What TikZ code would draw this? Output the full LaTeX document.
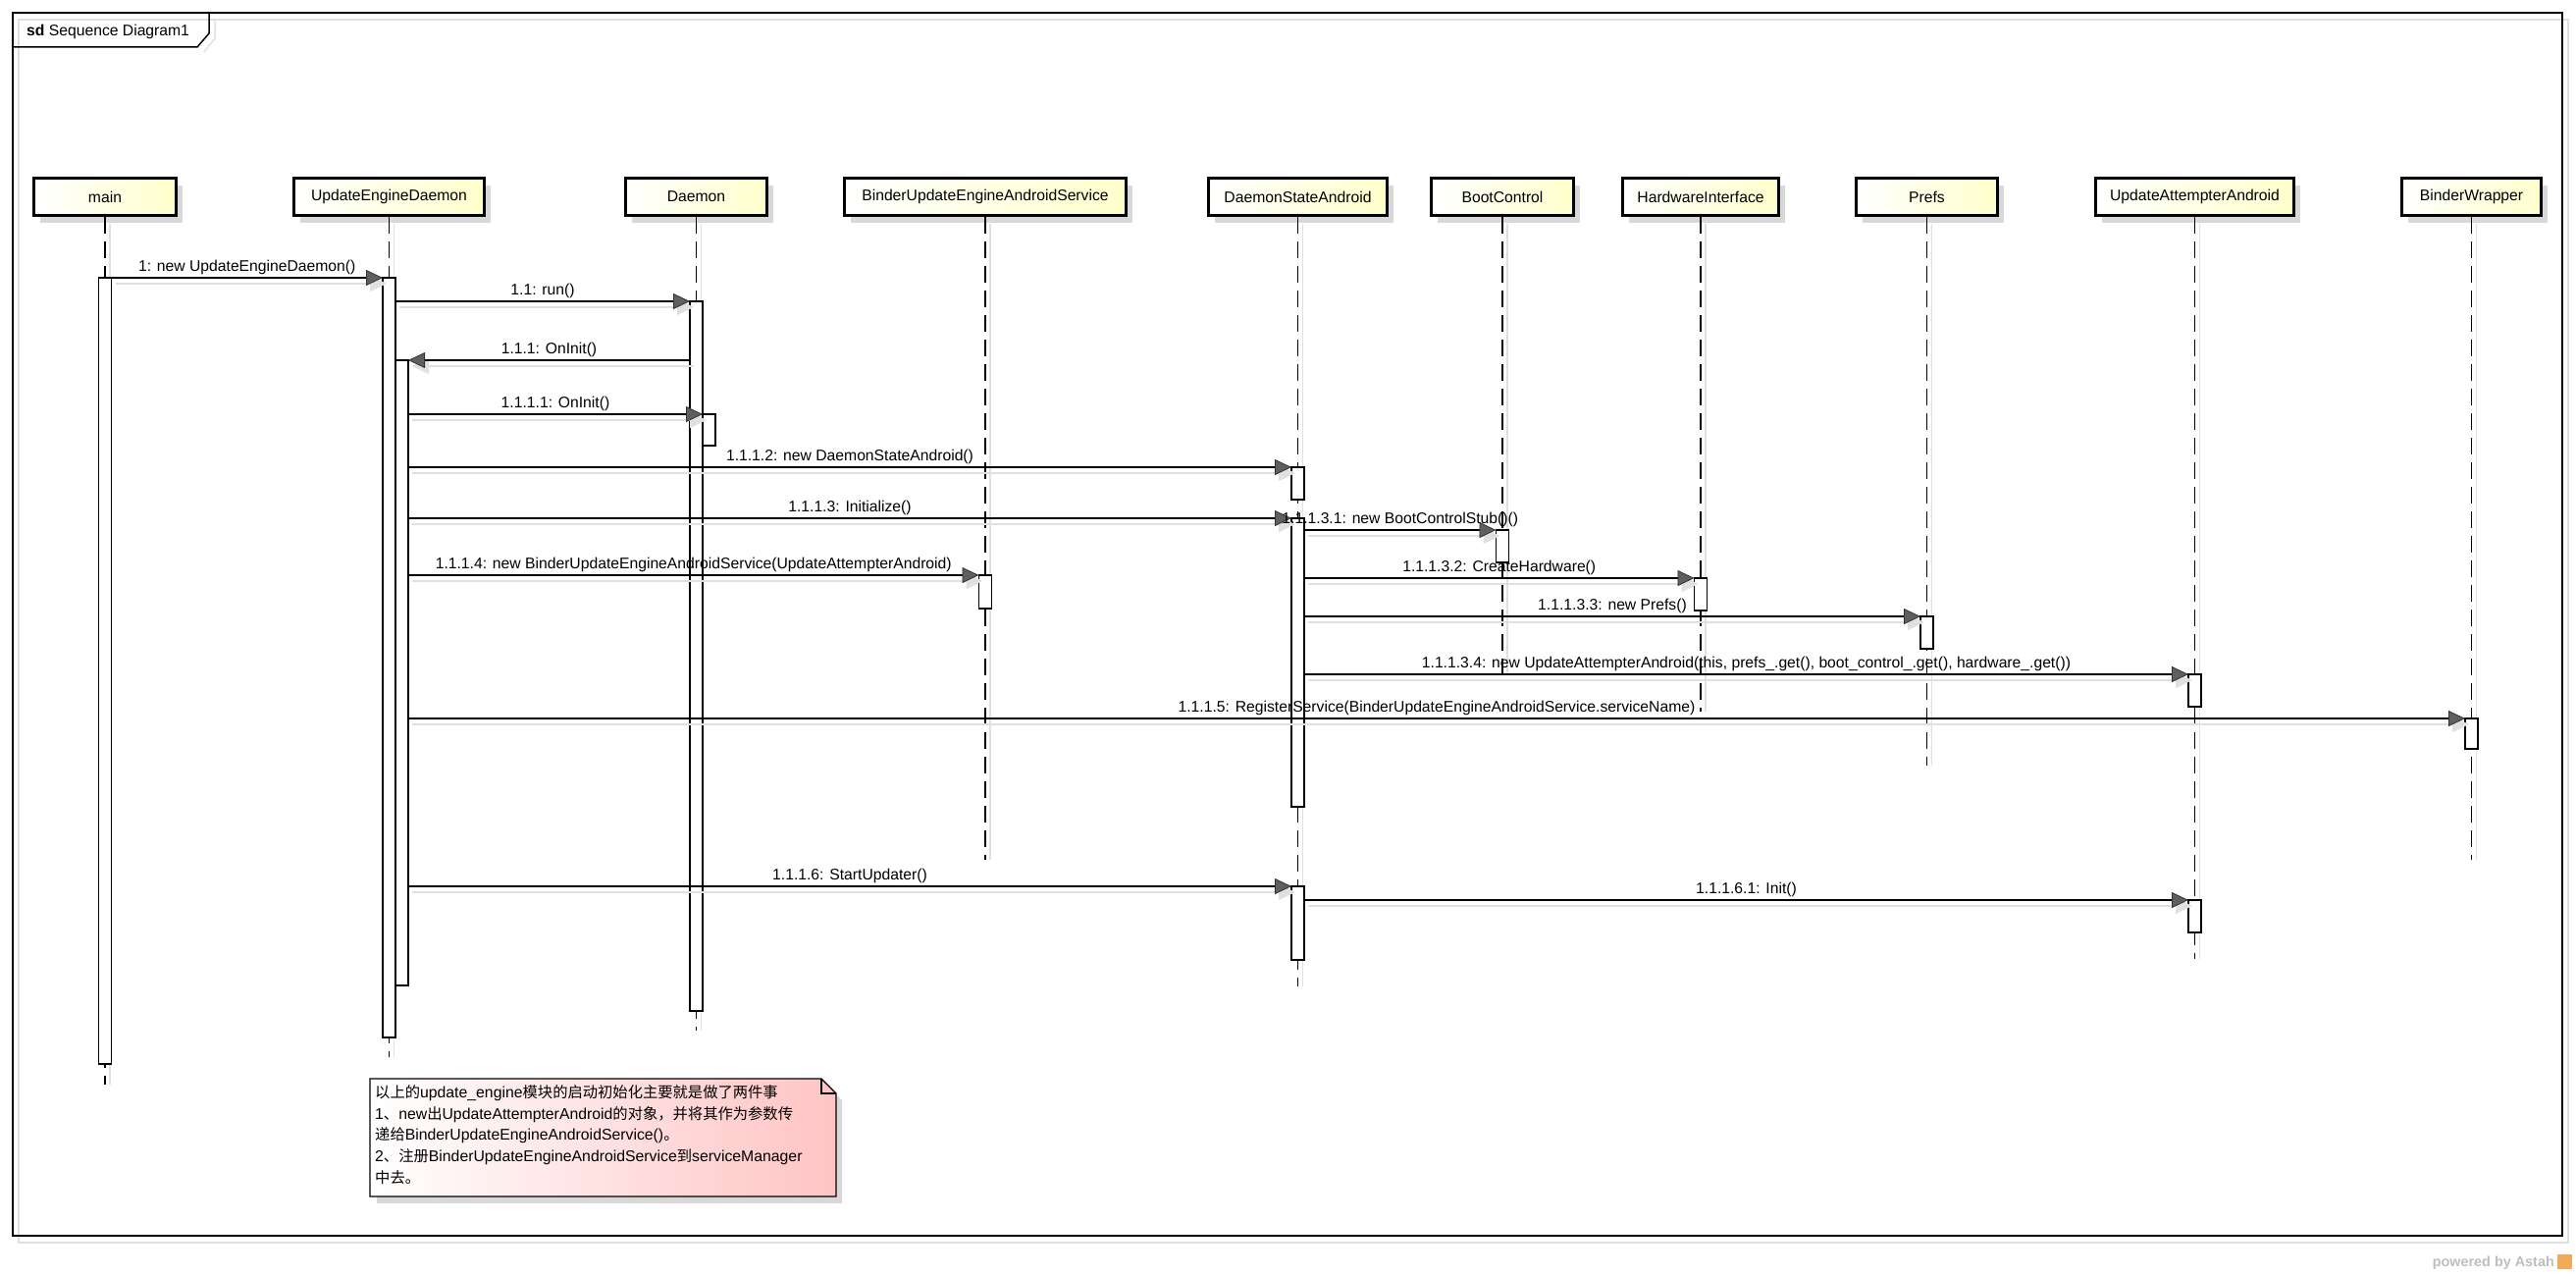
\documentclass[tikz,border=0pt]{standalone}
\usepackage{fontspec}
\setmainfont{Liberation Sans}
\newfontfamily\cjkfont{Noto Sans CJK SC}
\usetikzlibrary{arrows.meta,shadows}
\definecolor{headyellow}{RGB}{255,255,204}
\definecolor{notepink}{RGB}{255,196,196}
\definecolor{shadowgray}{RGB}{216,216,216}
\definecolor{lightline}{RGB}{224,224,224}
\definecolor{tipfill}{RGB}{95,95,95}
\definecolor{tipedge}{RGB}{50,50,50}
\definecolor{wmgray}{RGB}{190,190,190}
\definecolor{logoorange}{RGB}{240,170,90}
\newcommand\lblfont{\fontsize{15.7}{18}\selectfont}
\newcommand\cj[1]{{\cjkfont\fontsize{15.3}{17}\selectfont #1}}
\newcommand\sendmsg[3]{%
  \draw[msgshadow] #1 -- #2;
  \draw[msgline] #1 -- #2 node[lbl, midway, above=1.5pt] {#3};}
\tikzset{
  head/.style={draw, line width=3pt, left color=white, right color=headyellow,
    minimum height=38pt, inner sep=0pt, font=\lblfont,
    drop shadow={shadow xshift=6pt, shadow yshift=-7pt, fill=shadowgray, opacity=1}},
  life/.style={line width=1.1pt, dash pattern=on 17pt off 8pt},
  lifeshadow/.style={line width=1.2pt, draw=lightline},
  bar/.style={draw, fill=white, line width=1.2pt, minimum width=13pt, inner sep=0pt, outer sep=0pt},
  msgline/.style={line width=1.4pt, -{Triangle[length=17pt, width=16pt, fill=tipfill, color=tipedge, line width=0.8pt]}},
  msgshadow/.style={line width=1.4pt, draw=lightline, transform canvas={xshift=4pt, yshift=-6pt},
    -{Triangle[length=17pt, width=16pt, fill=lightline, color=lightline]}},
  lbl/.style={font=\lblfont, inner sep=1pt},
  noteline/.style={anchor=base west, inner sep=0pt, font=\fontsize{15.8}{18}\selectfont},
}
\begin{document}
\begin{tikzpicture}[x=1pt,y=-1pt]
\useasboundingbox (0,0) rectangle (2625,1298);
\fill[white] (0,0) rectangle (2625,1298);
% frame
\draw[lightline, line width=1.5pt] (19,20) rectangle (2617,1266);
\draw[line width=1.5pt] (13,13) rectangle (2611,1259);
\draw[lightline, line width=1.5pt] (219,20) -- (219,39) -- (208,53);
\draw[line width=1.5pt] (13,48) -- (201,48) -- (213,34) -- (213,13);
\node[anchor=base west, font=\lblfont, inner sep=0pt] (title) at (27,37) {\textbf{sd} Sequence Diagram1};

% lifeline heads
\node[head, minimum width=145pt] (hMain) at (107,200.5) {main};
\node[head, minimum width=194pt] (hUED) at (396.5,200.5) {UpdateEngineDaemon};
\node[head, minimum width=144pt] (hD) at (709.5,200.5) {Daemon};
\node[head, minimum width=287pt] (hBUS) at (1004,200.5) {BinderUpdateEngineAndroidService};
\node[head, minimum width=182pt] (hDSA) at (1322.5,200.5) {DaemonStateAndroid};
\node[head, minimum width=145pt] (hBC) at (1531,200.5) {BootControl};
\node[head, minimum width=159pt] (hHW) at (1733,200.5) {HardwareInterface};
\node[head, minimum width=144pt] (hPrefs) at (1963.5,200.5) {Prefs};
\node[head, minimum width=202pt] (hUAA) at (2236.5,200.5) {UpdateAttempterAndroid};
\node[head, minimum width=142pt] (hBW) at (2518.5,200.5) {BinderWrapper};

% lifeline ends
\coordinate (eMain) at (107,1105);
\coordinate (eUED) at (396.5,1077);
\coordinate (eD) at (709.5,1050);
\coordinate (eBUS) at (1004,876);
\coordinate (eDSA) at (1322.5,1005);
\coordinate (eBC) at (1531,686);
\coordinate (eHW) at (1733,725);
\coordinate (ePrefs) at (1963.5,780);
\coordinate (eUAA) at (2236.5,977);
\coordinate (eBW) at (2518.5,876);

\foreach \h/\e in {hMain/eMain,hUED/eUED,hD/eD,hBUS/eBUS,hDSA/eDSA,hBC/eBC,hHW/eHW,hPrefs/ePrefs,hUAA/eUAA,hBW/eBW}{
  \draw[lifeshadow] ([shift={(5pt,-7pt)}]\h.south) -- ([xshift=5pt]\e);
  \draw[life] (\h.south) -- (\e);
}

% activation bars
\node[bar, minimum height=801pt] (bMain) at (107,683.5) {};
\node[bar, minimum height=774pt] (bUED1) at (396.5,670) {};
\node[bar, minimum height=637pt] (bUED2) at (409.5,685.5) {};
\node[bar, minimum height=723pt] (bD1) at (709.5,668.5) {};
\node[bar, minimum height=32pt] (bD2) at (722.5,438) {};
\node[bar, minimum height=33pt] (bDSA1) at (1322.5,492.5) {};
\node[bar, minimum height=294pt] (bDSA2) at (1322.5,675) {};
\node[bar, minimum height=75pt] (bDSA3) at (1322.5,940.5) {};
\node[bar, minimum height=33pt] (bBC) at (1531,556.5) {};
\node[bar, minimum height=34pt] (bBUS) at (1004,603) {};
\node[bar, minimum height=33pt] (bHW) at (1733,605.5) {};
\node[bar, minimum height=33pt] (bPrefs) at (1963.5,644.5) {};
\node[bar, minimum height=33pt] (bUAA1) at (2236.5,703.5) {};
\node[bar, minimum height=33pt] (bUAA2) at (2236.5,933.5) {};
\node[bar, minimum height=31pt] (bBW) at (2518.5,747.5) {};

% message rows
\coordinate (r1) at (0,283);
\coordinate (r2) at (0,307);
\coordinate (r3) at (0,367);
\coordinate (r4) at (0,422);
\coordinate (r5) at (0,476);
\coordinate (r6) at (0,528);
\coordinate (r7) at (0,540);
\coordinate (r8) at (0,586);
\coordinate (r9) at (0,589);
\coordinate (r10) at (0,628);
\coordinate (r11) at (0,687);
\coordinate (r12) at (0,732);
\coordinate (r13) at (0,903);
\coordinate (r14) at (0,917);

\sendmsg{(bMain.east |- r1)}{(bUED1.west |- r1)}{1: new UpdateEngineDaemon()}
\sendmsg{(bUED1.east |- r2)}{(bD1.west |- r2)}{1.1: run()}
\sendmsg{(bD1.west |- r3)}{(bUED2.east |- r3)}{1.1.1: OnInit()}
\sendmsg{(bUED2.east |- r4)}{(bD2.west |- r4)}{1.1.1.1: OnInit()}
\sendmsg{(bUED2.east |- r5)}{(bDSA1.west |- r5)}{1.1.1.2: new DaemonStateAndroid()}
\sendmsg{(bUED2.east |- r6)}{(bDSA2.west |- r6)}{1.1.1.3: Initialize()}
\sendmsg{(bDSA2.east |- r7)}{(bBC.west |- r7)}{1.1.1.3.1: new BootControlStub()()}
\sendmsg{(bUED2.east |- r8)}{(bBUS.west |- r8)}{1.1.1.4: new BinderUpdateEngineAndroidService(UpdateAttempterAndroid)}
\sendmsg{(bDSA2.east |- r9)}{(bHW.west |- r9)}{1.1.1.3.2: CreateHardware()}
\sendmsg{(bDSA2.east |- r10)}{(bPrefs.west |- r10)}{1.1.1.3.3: new Prefs()}
\sendmsg{(bDSA2.east |- r11)}{(bUAA1.west |- r11)}{1.1.1.3.4: new UpdateAttempterAndroid(this, prefs\_.get(), boot\_control\_.get(), hardware\_.get())}
\sendmsg{(bUED2.east |- r12)}{(bBW.west |- r12)}{1.1.1.5: RegisterService(BinderUpdateEngineAndroidService.serviceName)}
\sendmsg{(bUED2.east |- r13)}{(bDSA3.west |- r13)}{1.1.1.6: StartUpdater()}
\sendmsg{(bDSA3.east |- r14)}{(bUAA2.west |- r14)}{1.1.1.6.1: Init()}

% note
\fill[shadowgray] (384,1106) -- (843,1106) -- (858,1121) -- (858,1226) -- (384,1226) -- cycle;
\draw[line width=1.2pt, left color=white, right color=notepink] (377,1099) -- (837,1099) -- (852,1114) -- (852,1219) -- (377,1219) -- cycle;
\draw[line width=1.2pt] (837,1099) -- (837,1114) -- (852,1114);
\node[noteline] (n1) at (382,1118) {\cj{以上的}update\_engine\cj{模块的启动初始化主要就是做了两件事}};
\node[noteline] (n2) at (382,1140) {1\cj{、}new\cj{出}UpdateAttempterAndroid\cj{的对象，并将其作为参数传}};
\node[noteline] (n3) at (382,1161.5) {\cj{递给}BinderUpdateEngineAndroidService()\cj{。}};
\node[noteline] (n4) at (382,1183) {2\cj{、注册}BinderUpdateEngineAndroidService\cj{到}serviceManager};
\node[noteline] (n5) at (382,1205) {\cj{中去。}};

% watermark
\node[anchor=base east, inner sep=0pt, text=wmgray, font=\bfseries\fontsize{14.4}{16}\selectfont] (wm) at (2603,1290) {powered by Astah};
\fill[logoorange] (2606,1278) rectangle (2621,1293);
\end{tikzpicture}
\end{document}
